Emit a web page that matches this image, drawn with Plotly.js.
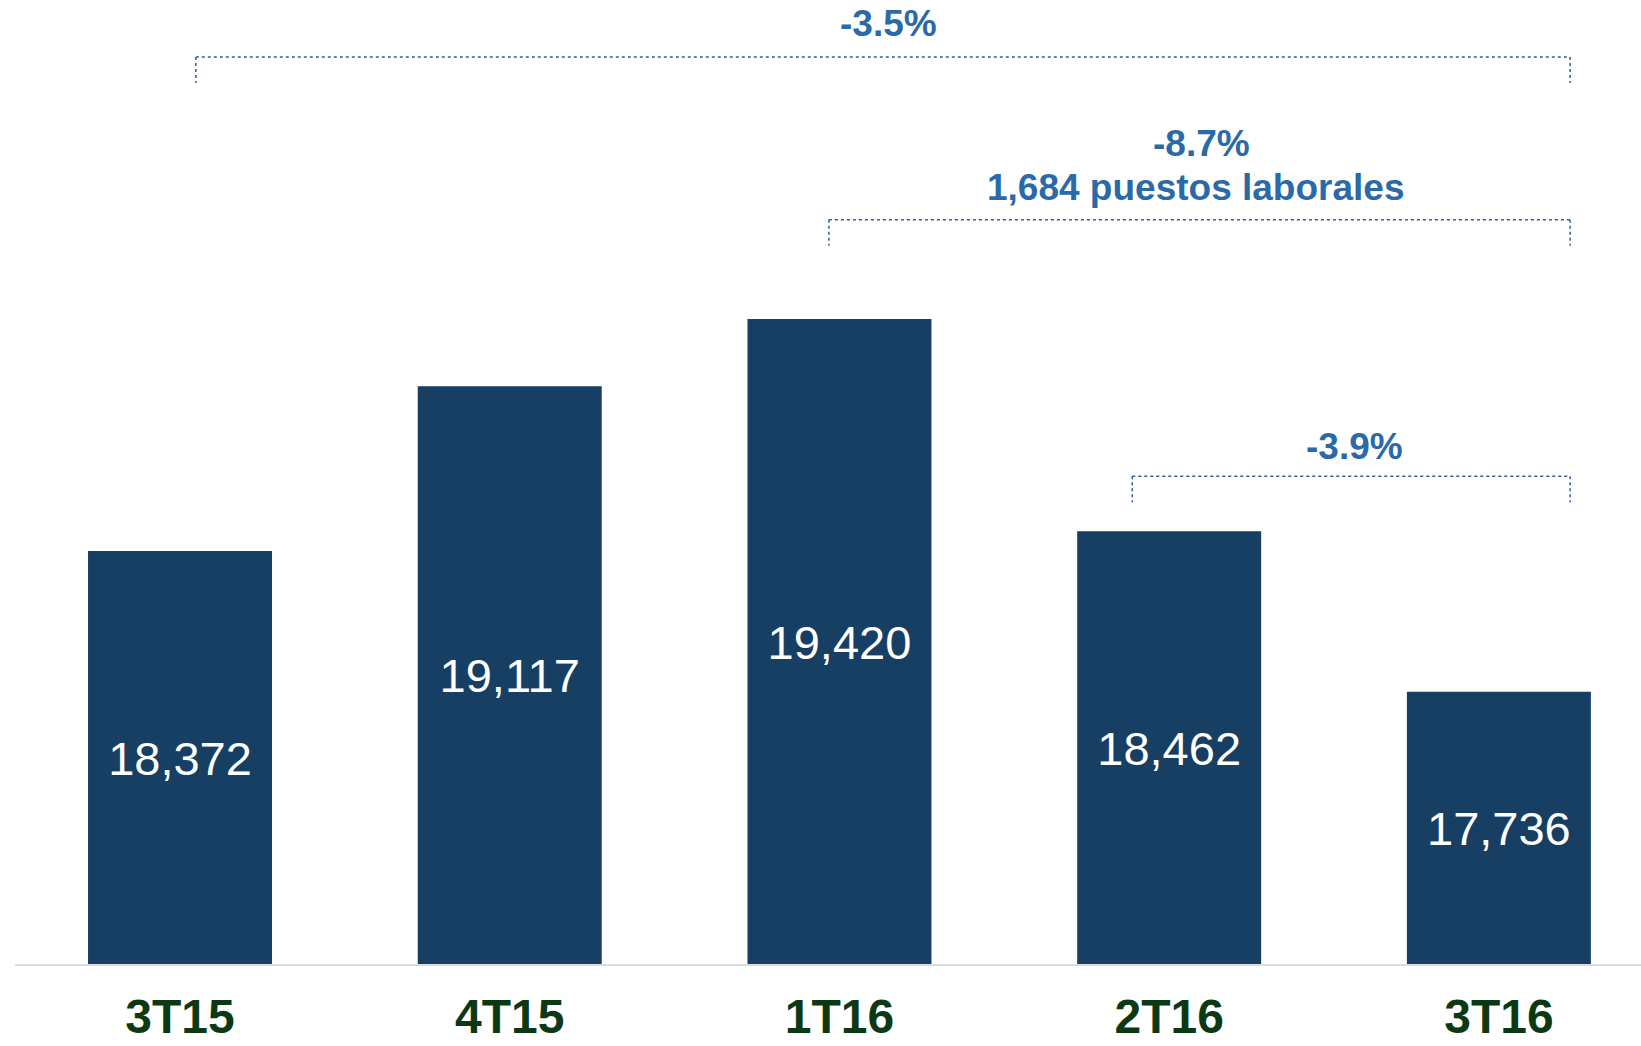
<!DOCTYPE html>
<html>
<head>
<meta charset="utf-8">
<script src="https://cdn.plot.ly/plotly-3.0.1.min.js"></script>
<style>
  html, body { margin: 0; padding: 0; background: #ffffff; }
  #chart { width: 1641px; height: 1046px; }
</style>
</head>
<body>
<div id="chart"></div>
<script>
// ---- data ----
const quarters = ["3T15", "4T15", "1T16", "2T16", "3T16"];
const employees = [18372, 19117, 19420, 18462, 17736];
const valueLabels = ["18,372", "19,117", "19,420", "18,462", "17,736"];

// change brackets: from-quarter index, to-quarter index
const bracketFrom = [0, 2, 3];
const bracketTo = [4, 4, 4];
// change notes
const noteText = ["-3.5%", "-8.7%", "1,684 puestos laborales", "-3.9%"];

// ---- styling / geometry ----
const barColor = "#173f63";
const noteColor = "#2a6aa8";
const lineColor = "#2f609a";
const tickColor = "#0c3914";
const axisMin = 16506, axisMax = 20862;
const labelNudge = 25; // small downward nudge of the in-bar labels (y units)

const bracketY = [0.941, 0.772, 0.506];
const bracketDrop = 0.027;
const leftOff = [0.048, -0.032, -0.112];
const rightOff = 0.216;
const pxPerCat = 329.7, firstCenter = 180;
const notePx = [888.6, 1201.5, 1195, 1354];
const noteY = [0.976, 0.851, 0.805, 0.537];

const barTrace = {
  type: "bar",
  x: quarters,
  y: employees,
  marker: { color: barColor, line: { width: 0 } },
  hoverinfo: "skip"
};

// value labels centred in the visible part of each bar
const labelTrace = {
  type: "scatter",
  mode: "text",
  x: quarters,
  y: employees.map(v => (v + axisMin) / 2 - labelNudge),
  text: valueLabels,
  textposition: "middle center",
  textfont: { family: "Liberation Sans, Arial, sans-serif", size: 47, color: "#ffffff" },
  hoverinfo: "skip"
};

const shapes = [];
for (let i = 0; i < bracketFrom.length; i++) {
  const xl = bracketFrom[i] + leftOff[i];
  const xr = bracketTo[i] + rightOff;
  const yh = bracketY[i];
  const yb = yh - bracketDrop;
  const ln = { color: lineColor, width: 1.5, dash: "dot" };
  shapes.push({ type: "line", xref: "x", yref: "paper", x0: xl, x1: xr, y0: yh, y1: yh, line: ln });
  shapes.push({ type: "line", xref: "x", yref: "paper", x0: xl, x1: xl, y0: yh, y1: yb, line: ln });
  shapes.push({ type: "line", xref: "x", yref: "paper", x0: xr, x1: xr, y0: yh, y1: yb, line: ln });
}
const annotations = noteText.map((t, i) => ({
  xref: "x", yref: "paper",
  x: (notePx[i] - firstCenter) / pxPerCat,
  y: noteY[i],
  text: t,
  showarrow: false,
  xanchor: "center", yanchor: "middle",
  font: { family: "Liberation Sans, Arial, sans-serif", size: 37, color: noteColor, weight: 700 }
}));

const layout = {
  width: 1641,
  height: 1046,
  margin: { l: 15, r: 0, t: 0, b: 82, pad: 0 },
  paper_bgcolor: "#ffffff",
  plot_bgcolor: "#ffffff",
  showlegend: false,
  bargap: 0.442,
  xaxis: {
    type: "category",
    range: [-0.5005, 4.431],
    showline: true,
    linecolor: "#dcdcdc",
    linewidth: 2,
    showgrid: false,
    zeroline: false,
    ticks: "",
    ticklabelstandoff: 9,
    tickfont: { family: "Liberation Sans, Arial, sans-serif", size: 48, color: tickColor, weight: 700 }
  },
  yaxis: {
    visible: false,
    range: [axisMin, axisMax],
    showgrid: false,
    zeroline: false
  },
  shapes: shapes,
  annotations: annotations
};

Plotly.newPlot("chart", [barTrace, labelTrace], layout, { displayModeBar: false, staticPlot: true });
</script>
</body>
</html>
